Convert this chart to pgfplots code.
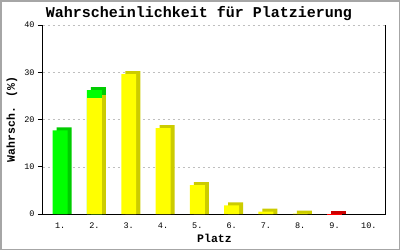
\documentclass[border=0pt]{standalone}
\usepackage{pgfplots}
\pgfplotsset{compat=1.18}
\usepackage{pgfplotstable}
\usepackage{fontspec}
\setmainfont{Liberation Mono}
\definecolor{gf}{HTML}{00FF00}
\definecolor{gb}{HTML}{00CC00}
\definecolor{yf}{HTML}{FFFF00}
\definecolor{yb}{HTML}{CCCC00}
\definecolor{rf}{HTML}{FF0000}
\definecolor{rb}{HTML}{CC0000}
\pgfplotstableread{
x v
1 17.7
2 26.2
}\greendata
\pgfplotstableread{
x v
2 24.5
3 29.6
4 18.2
5 6.1
6 1.8
7 0.5
8 0.1
}\yellowdata
\pgfplotstableread{
x v
9 0.1
}\reddata
\begin{document}
\begin{tikzpicture}[x=1pt,y=1pt]
\useasboundingbox (0,0) rectangle (400,250);
\fill[white] (0,0) rectangle (400,250);
\draw[color=gray!70, line width=1.5pt] (0.75,0.75) rectangle (399.25,249.25);
\begin{axis}[
  at={(43pt,36pt)}, anchor=south west, scale only axis,
  width=343pt, height=189pt,
  xmin=0.5, xmax=10.5, ymin=0, ymax=40,
  xtick={1,2,3,4,5,6,7,8,9,10},
  xticklabels={1.,2.,3.,4.,5.,6.,7.,8.,9.,10.},
  ytick={0,10,20,30,40},
  axis x line*=bottom, axis y line*=left,
  axis line style={-, black, line width=1pt},
  ymajorgrids, grid style={gray!50, dash pattern=on 2pt off 3pt},
  tick align=outside, ytick pos=left, major tick length=5pt,
  xtick style={draw=none}, ytick style={black, line width=1pt},
  tick label style={font=\fontsize{8.5}{9}\selectfont},
  /pgf/number format/assume math mode=true,
  clip=false,
]
\addplot[ybar, bar width=0.437, bar shift=0.117, fill=gb, draw=none] table[x=x, y expr=\thisrow{v}+0.635] {\greendata};
\addplot[ybar, bar width=0.437, bar shift=0.117, fill=yb, draw=none] table[x=x, y expr=\thisrow{v}+0.635] {\yellowdata};
\addplot[ybar, bar width=0.437, bar shift=0.117, fill=rb, draw=none] table[x=x, y expr=\thisrow{v}+0.635] {\reddata};
\addplot[ybar, bar width=0.437, bar shift=0, fill=gf, draw=none] table[x=x, y=v] {\greendata};
\addplot[ybar, bar width=0.437, bar shift=0, fill=yf, draw=none] table[x=x, y=v] {\yellowdata};
\addplot[ybar, bar width=0.437, bar shift=0, fill=rf, draw=none] table[x=x, y=v] {\reddata};
\draw[black, line width=1pt] (rel axis cs:1,0) -- (rel axis cs:1,1);
\end{axis}
\node[anchor=base, font=\bfseries\fontsize{15}{18}\selectfont] at (199,232.5) {Wahrscheinlichkeit für Platzierung};
\node[anchor=base, font=\bfseries\fontsize{11.5}{13}\selectfont] at (214.5,8) {Platz};
\node[rotate=90, font=\bfseries\fontsize{11.5}{13}\selectfont] at (12,130.5) {Wahrsch. (\%)};
\end{tikzpicture}
\end{document}
